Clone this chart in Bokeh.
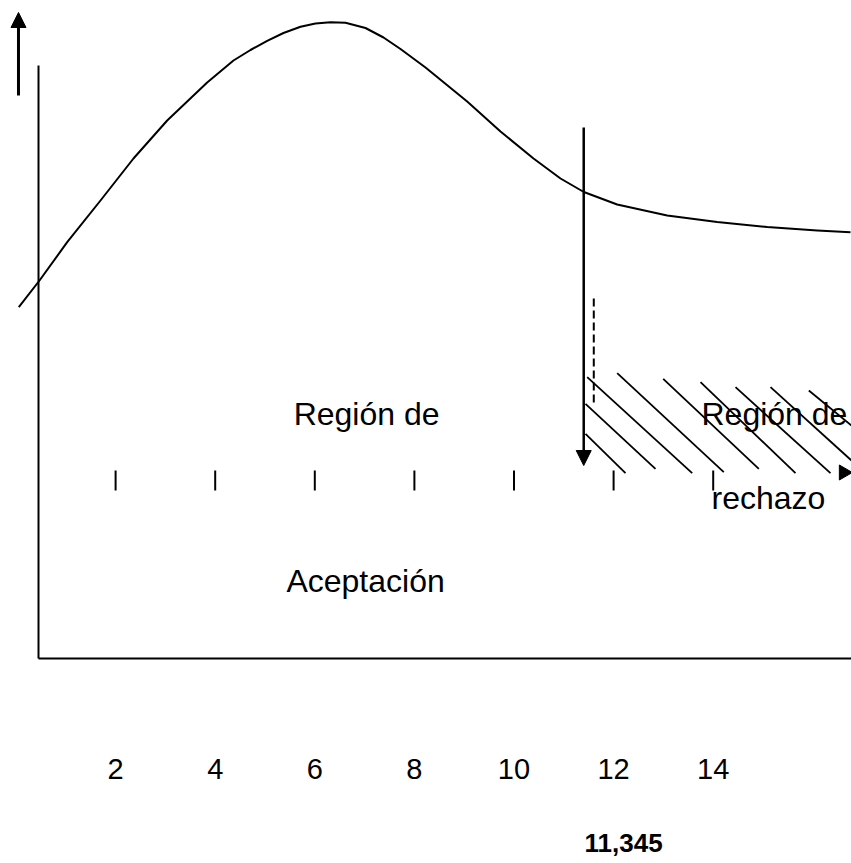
from bokeh.plotting import figure
from bokeh.models import Range1d, Arrow, NormalHead
from bokeh.embed import file_html
from bokeh.resources import INLINE
from bokeh.core.properties import value

# ---- data (x: chi-square value, y: curve height) ----
curve_x = [0.056, 0.472, 1.028, 1.697, 2.359, 3.036, 3.839, 4.367, 4.709, 5.044,
           5.371, 5.713, 6.014, 6.315, 6.616, 7.018, 7.380, 7.721, 8.223, 9.060,
           9.729, 10.392, 10.934, 11.402, 12.072, 13.076, 14.080, 15.084, 16.088, 16.757]
curve_y = [3.513, 3.780, 4.163, 4.580, 5.000, 5.380, 5.760, 5.980, 6.085, 6.177,
           6.255, 6.317, 6.350, 6.363, 6.357, 6.305, 6.210, 6.095, 5.910, 5.570,
           5.270, 5.000, 4.800, 4.665, 4.540, 4.430, 4.365, 4.315, 4.280, 4.263]

tick_values = [2, 4, 6, 8, 10, 12, 14]
tick_labels = ["2", "4", "6", "8", "10", "12", "14"]
critical_value = 11.345
critical_label = "11,345"
arrow_x = 11.40

# rejection-region hatch segments
hatch_x0 = [11.436, 11.436, 11.470, 12.072, 12.996, 13.745, 14.448, 15.151, 15.920]
hatch_y0 = [2.247, 2.547, 2.813, 2.853, 2.797, 2.763, 2.713, 2.713, 2.680]
hatch_x1 = [12.239, 12.841, 13.578, 14.213, 14.916, 15.653, 16.355, 16.777, 16.777]
hatch_y1 = [1.853, 1.897, 1.853, 1.863, 1.897, 1.853, 1.853, 1.980, 2.330]

region_texts = ["Región de", "Aceptación", "Región de", "rechazo"]
region_x = [7.04, 7.02, 15.23, 15.11]
region_y = [2.45, 0.78, 2.45, 1.61]

# ---- figure in chart units ----
p = figure(width=851, height=863, output_backend="svg", toolbar_location=None,
           x_axis_type=None, y_axis_type=None,
           x_range=Range1d(-0.3112, 16.7771), y_range=Range1d(-2.05, 6.58),
           min_border=0, min_border_left=0, min_border_right=0,
           min_border_top=0, min_border_bottom=0)
p.outline_line_color = None
p.background_fill_color = "white"
p.border_fill_color = "white"

font = value("Liberation Sans")

# axes drawn as lines
p.line([0.452, 0.452], [0, 5.93], line_color="black", line_width=2)
p.line([0.452, 16.9], [0, 0], line_color="black", line_width=2)

# small up arrow at top-left
p.add_layout(Arrow(end=NormalHead(size=15, fill_color="black", line_color="black"),
                   x_start=0.05, y_start=5.63, x_end=0.05, y_end=6.46,
                   line_color="black", line_width=3))

# density curve
p.line(curve_x, curve_y, line_color="black", line_width=2, line_join="round")

# tick marks
p.segment(x0=tick_values, y0=[1.68] * len(tick_values),
          x1=tick_values, y1=[1.88] * len(tick_values),
          line_color="black", line_width=2)

# critical value arrow
p.add_layout(Arrow(end=NormalHead(size=15, fill_color="black", line_color="black"),
                   x_start=arrow_x, y_start=5.31, x_end=arrow_x, y_end=1.93,
                   line_color="black", line_width=2.5))

# dashed line
p.line([11.602, 11.602], [3.60, 2.53], line_color="black", line_width=2,
       line_dash="8 4")

# hatch
p.segment(x0=hatch_x0, y0=hatch_y0, x1=hatch_x1, y1=hatch_y1,
          line_color="black", line_width=1.8)

# right-pointing arrowhead
p.scatter([16.62], [1.86], marker="triangle", size=15, angle=-1.5708,
          fill_color="black", line_color="black")

# texts
p.text(x=region_x, y=region_y, text=region_texts, text_font=font,
       text_font_size="32px", text_align="center", text_baseline="middle",
       text_color="black")

p.text(x=tick_values, y=[-1.10] * len(tick_values), text=tick_labels,
       text_font=font, text_font_size="29px", text_align="center",
       text_baseline="middle", text_color="black")

p.text(x=[12.2], y=[-1.84], text=[critical_label], text_font=font,
       text_font_size="26px", text_font_style="bold", text_align="center",
       text_baseline="middle", text_color="black")

open("out.html", "w").write(file_html(p, INLINE))
